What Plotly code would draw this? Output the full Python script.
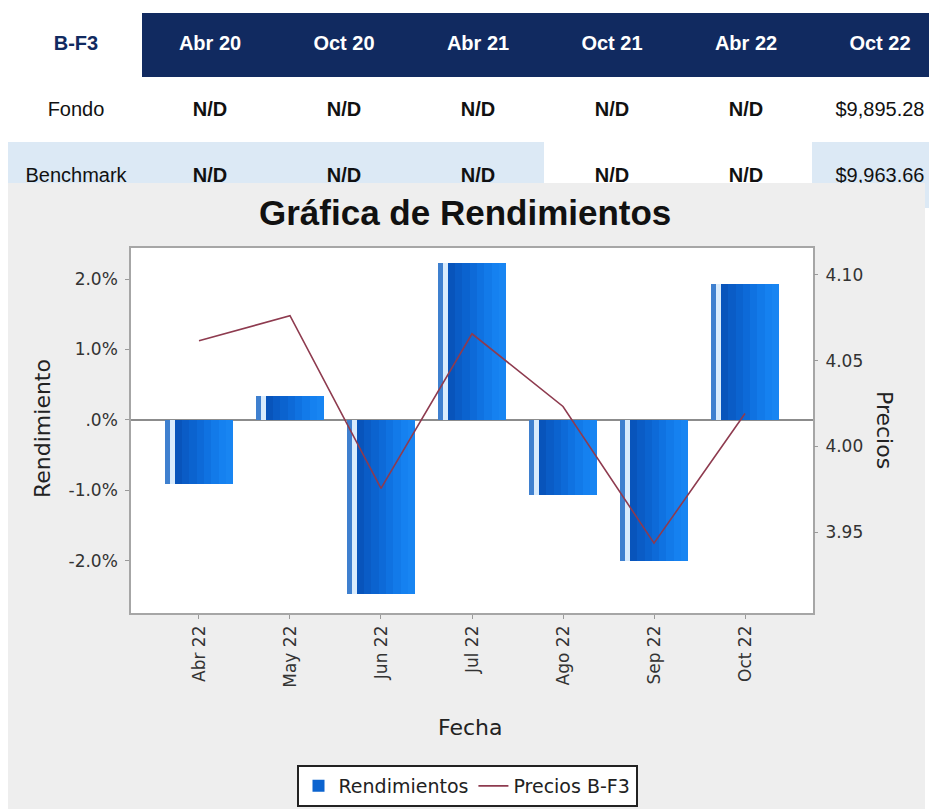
import plotly.graph_objects as go

# page offset of the figure inside the browser (body margin)
OX, OY = 8, 8
W, H = 937 - OX, 809 - OY

# ---------------- data ----------------
fechas = ["Abr 22", "May 22", "Jun 22", "Jul 22", "Ago 22", "Sep 22", "Oct 22"]
rendimientos = [-0.91, 0.34, -2.47, 2.23, -1.06, -2.00, 1.93]          # %
precios = [4.0616, 4.0762, 3.9756, 4.0657, 4.0233, 3.9436, 4.0192]

rend_tickvals = [-2.0, -1.0, 0.0, 1.0, 2.0]
rend_ticktext = ["-2.0%", "-1.0%", ".0%", "1.0%", "2.0%"]
precio_tickvals = [3.95, 4.00, 4.05, 4.10]

tabla_encabezado = ["B-F3", "Abr 20", "Oct 20", "Abr 21", "Oct 21", "Abr 22", "Oct 22"]
tabla_filas = ["Fondo", "Benchmark"]
fondo_vals = ["N/D", "N/D", "N/D", "N/D", "N/D", "$9,895.28"]
benchmark_vals = ["N/D", "N/D", "N/D", "N/D", "N/D", "$9,963.66"]

# ---------------- helpers (page pixels -> paper) ----------------
def px(x):
    return (x - OX) / W

def py(y):
    return 1 - (y - OY) / H

NAVY = "#112a60"
LIGHT = "#dce9f5"
FONT = "DejaVu Sans"
TFONT = "Liberation Sans"

fig = go.Figure()

# ---------------- bars (layered strips to mimic the shaded bar) ----------------
body_cols = ["#0854bb", "#0a5cc6", "#0b63cf", "#0d6ad8", "#0f72e1", "#127ae9",
             "#1581f0", "#1885f2"]
bar_layers = [(-0.374, 0.055, "#3f80cf", False), (-0.319, 0.055, "#d9ebfc", False)]
body_start, body_w = -0.264, 0.638
n = len(body_cols)
for i, c in enumerate(body_cols):
    bar_layers.append((body_start + i * body_w / n, body_w / n + 0.002, c, i == 2))

for off, wd, col, show in bar_layers:
    fig.add_trace(go.Bar(
        x=fechas, y=rendimientos, offset=off, width=wd,
        marker=dict(color=col, line=dict(width=0)),
        name="Rendimientos", showlegend=show, legendrank=1,
        xaxis="x", yaxis="y", hoverinfo="skip" if not show else None,
    ))

fig.add_trace(go.Scatter(
    x=fechas, y=precios, mode="lines",
    line=dict(color="#8e3b4f", width=1.6),
    name="Precios B-F3", legendrank=2,
    xaxis="x", yaxis="y2",
))

# ---------------- table text (clipped at the chart panel) ----------------
tx = dict(xaxis="x3", yaxis="y3", mode="text", showlegend=False,
          hoverinfo="skip", cliponaxis=True)
fig.add_trace(go.Scatter(
    x=list(range(1, len(tabla_encabezado))), y=[0] * (len(tabla_encabezado) - 1),
    text=tabla_encabezado[1:],
    textfont=dict(family=TFONT, size=20, color="white", weight="bold"), **tx))
fig.add_trace(go.Scatter(
    x=[0], y=[0], text=tabla_encabezado[:1],
    textfont=dict(family=TFONT, size=20, color=NAVY, weight="bold"), **tx))
fig.add_trace(go.Scatter(
    x=[0] * len(tabla_filas), y=list(range(1, len(tabla_filas) + 1)), text=tabla_filas,
    textfont=dict(family=TFONT, size=20, color="#111111"), **tx))

bold_x, bold_y, bold_t, reg_x, reg_y, reg_t = [], [], [], [], [], []
for r, vals in enumerate([fondo_vals, benchmark_vals], start=1):
    for j, v in enumerate(vals, start=1):
        if v.startswith("$"):
            reg_x.append(j); reg_y.append(r); reg_t.append(v)
        else:
            bold_x.append(j); bold_y.append(r); bold_t.append(v)
fig.add_trace(go.Scatter(x=bold_x, y=bold_y, text=bold_t,
    textfont=dict(family=TFONT, size=20, color="#111111", weight="bold"), **tx))
fig.add_trace(go.Scatter(x=reg_x, y=reg_y, text=reg_t,
    textfont=dict(family=TFONT, size=20, color="#111111"), **tx))

# ---------------- shapes ----------------
shapes = [
    dict(type="rect", xref="paper", yref="paper", x0=px(142), x1=px(937),
         y0=py(77), y1=py(13), fillcolor=NAVY, line=dict(width=0), layer="below"),
    dict(type="rect", xref="paper", yref="paper", x0=px(8), x1=px(544),
         y0=py(208), y1=py(142), fillcolor=LIGHT, line=dict(width=0), layer="below"),
    dict(type="rect", xref="paper", yref="paper", x0=px(812), x1=px(937),
         y0=py(208), y1=py(142), fillcolor=LIGHT, line=dict(width=0), layer="below"),
    dict(type="rect", xref="paper", yref="paper", x0=px(8), x1=px(925),
         y0=0, y1=py(183), fillcolor="#eeeeee", line=dict(width=0), layer="below"),
    dict(type="rect", xref="x domain", yref="y domain", x0=0, x1=1, y0=0, y1=1,
         fillcolor="white", line=dict(width=0), layer="below"),
]

annotations = [
    dict(text="<b>Gráfica de Rendimientos</b>", x=px(465), y=py(213), xref="paper",
         yref="paper", showarrow=False, xanchor="center", yanchor="middle",
         font=dict(family=TFONT, size=35, color="#111111")),
    dict(text="Rendimiento", x=px(43), y=py(429), xref="paper", yref="paper",
         showarrow=False, textangle=-90, xanchor="center", yanchor="middle",
         font=dict(family=FONT, size=22, color="#222222")),
    dict(text="Precios", x=px(884), y=py(430), xref="paper", yref="paper",
         showarrow=False, textangle=90, xanchor="center", yanchor="middle",
         font=dict(family=FONT, size=22, color="#222222")),
    dict(text="Fecha", x=px(470), y=py(727), xref="paper", yref="paper",
         showarrow=False, xanchor="center", yanchor="middle",
         font=dict(family=FONT, size=22, color="#222222")),
]

axis_common = dict(showgrid=False, ticks="outside", ticklen=4, tickcolor="#9a9a9a",
                   tickfont=dict(family=FONT, size=17, color="#333333"))

fig.update_layout(
    width=W, height=H, autosize=False,
    margin=dict(l=0, r=0, t=0, b=0, pad=0),
    paper_bgcolor="white", plot_bgcolor="white",
    barmode="overlay", bargap=0,
    showlegend=True,
    legend=dict(orientation="h", x=px(467), xanchor="center", y=py(765), yanchor="top",
                bgcolor="white", bordercolor="#222222", borderwidth=2,
                font=dict(family=FONT, size=19, color="#222222"),
                itemwidth=30, traceorder="normal"),
    xaxis=dict(domain=[px(131), px(813)], type="category", categoryorder="array",
               categoryarray=fechas, range=[-0.747, 6.747], tickangle=-90,
               showline=True, linecolor="#a6a6a6", linewidth=1.5, mirror=True,
               anchor="y", zeroline=False, **axis_common),
    yaxis=dict(domain=[py(613), py(248)], range=[-2.74, 2.44], tickvals=rend_tickvals,
               ticktext=rend_ticktext, showline=True, linecolor="#a6a6a6", linewidth=1.5,
               mirror=True, zeroline=True, zerolinecolor="#8c8c8c", zerolinewidth=1.5,
               anchor="x", ticklabelstandoff=4, **axis_common),
    yaxis2=dict(overlaying="y", side="right", range=[3.9029, 4.1157],
                tickvals=precio_tickvals, tickformat=".2f", zeroline=False,
                showline=False, anchor="x", ticklabelstandoff=4, **axis_common),
    xaxis3=dict(domain=[0, 1], range=[(OX - 76) / 134, (937 - 76) / 134], visible=False,
                anchor="y3", fixedrange=True),
    yaxis3=dict(domain=[py(183), 1], range=[(183 - 45) / 66, (OY - 45) / 66],
                visible=False, anchor="x3", fixedrange=True),
    shapes=shapes,
    annotations=annotations,
)

fig.write_html("out.html")
